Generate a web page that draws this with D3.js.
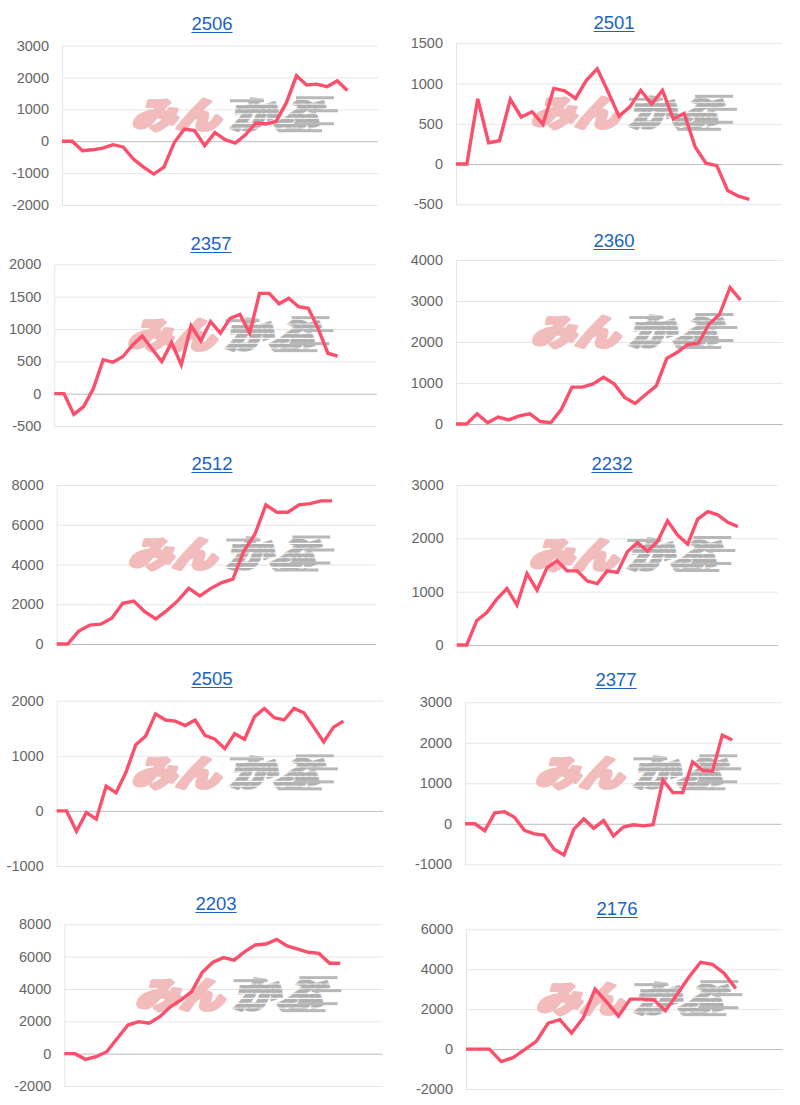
<!DOCTYPE html>
<html><head><meta charset="utf-8">
<script src="https://cdn.jsdelivr.net/npm/d3@7"></script>
<style>
html,body{margin:0;padding:0;background:#fff;}
svg{display:block;}
</style></head>
<body>
<script>
// ---------- data ----------
const titles = ["2506","2501","2357","2360","2512","2232","2505","2377","2203","2176"];

const s2506 = [0,0,-300,-270,-220,-110,-180,-560,-810,-1030,-810,-50,380,330,-140,270,50,-60,200,570,540,620,1200,2050,1760,1790,1710,1890,1590];
const s2501 = [0,0,810,265,290,805,585,650,495,940,910,815,1040,1185,895,595,710,915,745,915,560,630,215,10,-20,-330,-400,-440];
const s2357 = [0,0,-320,-200,80,525,485,570,750,890,690,495,790,445,1050,815,1115,935,1165,1225,935,1550,1550,1390,1475,1345,1320,1010,625,580];
const s2360 = [0,0,250,30,170,100,200,250,60,30,360,900,900,980,1140,980,650,500,720,930,1600,1750,1940,1970,2430,2670,3330,3020];
const s2512 = [0,0,650,950,1000,1300,2050,2160,1630,1260,1680,2180,2800,2420,2800,3090,3270,4680,5520,7000,6630,6630,7000,7060,7200,7200];
const s2232 = [0,0,460,610,860,1060,750,1340,1030,1450,1580,1390,1390,1200,1150,1390,1360,1750,1920,1760,1940,2330,2060,1890,2360,2500,2440,2300,2220];
const s2505 = [0,0,-370,-30,-150,450,330,700,1200,1360,1760,1650,1630,1550,1650,1370,1300,1130,1400,1300,1710,1860,1690,1650,1860,1780,1520,1250,1520,1630];
const s2377 = [0,0,-170,270,300,160,-160,-250,-280,-630,-770,-130,120,-110,80,-300,-80,-25,-50,-20,1080,770,770,1530,1320,1300,2190,2070];
const s2203 = [0,0,-350,-190,120,950,1770,1980,1880,2290,2900,3320,3840,5030,5650,5940,5790,6310,6720,6780,7070,6660,6470,6270,6200,5590,5590];
const s2176 = [0,0,0,-630,-430,-30,390,1300,1470,800,1570,3000,2350,1650,2500,2500,2480,1920,2750,3600,4350,4250,3800,3030];

const seriesList = [s2506,s2501,s2357,s2360,s2512,s2232,s2505,s2377,s2203,s2176];

// number of category slots on each x axis (later dates are still empty)
const xSlots = [32,31,34,32,30,33,34,33,31,28];

const ticks2506 = [-2000,-1000,0,1000,2000,3000];
const ticks2501 = [-500,0,500,1000,1500];
const ticks2357 = [-500,0,500,1000,1500,2000];
const ticks2360 = [0,1000,2000,3000,4000];
const ticks2512 = [0,2000,4000,6000,8000];
const ticks2232 = [0,1000,2000,3000];
const ticks2505 = [-1000,0,1000,2000];
const ticks2377 = [-1000,0,1000,2000,3000];
const ticks2203 = [-2000,0,2000,4000,6000,8000];
const ticks2176 = [-2000,0,2000,4000,6000];
const tickList = [ticks2506,ticks2501,ticks2357,ticks2360,ticks2512,ticks2232,ticks2505,ticks2377,ticks2203,ticks2176];

// ---------- layout (plot boxes, title positions) ----------
const layout = [
  {x0:62,   x1:378,   yt:45.5,  yb:205,   tx:212, ty:30},
  {x0:456,  x1:782,   yt:43.3,  yb:204.3, tx:614, ty:29},
  {x0:54.3, x1:376.7, yt:264.3, yb:426,   tx:211, ty:250},
  {x0:456,  x1:782.7, yt:260,   yb:424,   tx:614, ty:247},
  {x0:56.7, x1:376,   yt:485,   yb:644,   tx:212, ty:470},
  {x0:456.7,x1:778,   yt:485,   yb:645,   tx:612, ty:470},
  {x0:56.7, x1:383,   yt:700.7, yb:866,   tx:212, ty:685},
  {x0:465,  x1:781.7, yt:702.3, yb:864.3, tx:616, ty:686},
  {x0:64.3, x1:382.7, yt:924.3, yb:1086,  tx:216, ty:910},
  {x0:466,  x1:782.7, yt:929.3, yb:1089,  tx:617, ty:915}
];

const LINE_COLOR = "#fb4f6b";
const GRID_COLOR = "#e6e6e6";
const ZERO_COLOR = "#bdbdbd";
const FONT = "'Liberation Sans', Arial, Helvetica, sans-serif";

const svg = d3.select("body").append("svg")
  .attr("width", 800).attr("height", 1105);

const defs = svg.append("defs");
const pat = defs.append("pattern")
  .attr("id", "stripes")
  .attr("patternUnits", "userSpaceOnUse")
  .attr("width", 8).attr("height", 6);
pat.append("rect").attr("x",0).attr("y",0).attr("width",8).attr("height",4.6).attr("fill","#b0b0b0");

function drawWatermark(g, cx, cy) {
  const wm = g.append("g").attr("transform", `translate(${cx},${cy})`);
  const inner = wm.append("g").attr("transform", "scale(1,0.8) skewX(-14)");
  inner.append("text")
    .attr("x", -98).attr("y", 17)
    .attr("font-family", "'Noto Sans CJK JP', sans-serif")
    .attr("font-weight", 900)
    .attr("font-size", 44)
    .attr("fill", "#f2bcbc")
    .attr("stroke", "#f2bcbc")
    .attr("stroke-width", 4.5)
    .attr("stroke-linejoin", "round")
    .text("みん");
  inner.append("text")
    .attr("x", 0).attr("y", 17)
    .attr("font-family", "'Noto Sans CJK JP', sans-serif")
    .attr("font-weight", 900)
    .attr("font-size", 44)
    .attr("fill", "url(#stripes)")
    .attr("stroke", "url(#stripes)")
    .attr("stroke-width", 4.5)
    .text("かぶ");
  // speed lines
  const sl = [[-4,-15,34],[62,-18,38],[74,-5,30],[60,8,40],[44,15,44]];
  sl.forEach(d => {
    wm.append("rect").attr("x", d[0]).attr("y", d[1]).attr("width", d[2]).attr("height", 3)
      .attr("fill", "#b8b8b8");
  });
}

seriesList.forEach((vals, i) => {
  const L = layout[i];
  const ticks = tickList[i];
  const g = svg.append("g");

  const x = d3.scaleLinear().domain([0, xSlots[i] - 1]).range([L.x0, L.x1]);
  const y = d3.scaleLinear().domain([d3.min(ticks), d3.max(ticks)]).range([L.yb, L.yt]);

  // grid + axis
  const axis = d3.axisLeft(y)
    .tickValues(ticks)
    .tickSize(-(L.x1 - L.x0))
    .tickSizeOuter(0)
    .tickPadding(13)
    .tickFormat(d => String(d));
  const ag = g.append("g").attr("transform", `translate(${L.x0},0)`).call(axis);
  ag.select(".domain").attr("stroke", GRID_COLOR).attr("stroke-width", 1);
  ag.selectAll(".tick line")
    .attr("stroke", d => d === 0 ? ZERO_COLOR : GRID_COLOR)
    .attr("stroke-width", 1);
  ag.selectAll(".tick text")
    .attr("fill", "#666")
    .attr("font-family", FONT)
    .attr("font-size", 14.5);

  // watermark
  drawWatermark(g, (L.x0 + L.x1) / 2 + 14, (L.yt + L.yb) / 2 - 11);

  // title
  const t = g.append("text")
    .attr("x", L.tx).attr("y", L.ty)
    .attr("text-anchor", "middle")
    .attr("font-family", FONT)
    .attr("font-size", 18.5)
    .attr("fill", "#1a63c4")
    .text(titles[i]);
  const w = t.node().getComputedTextLength();
  g.append("line")
    .attr("x1", L.tx - w / 2).attr("x2", L.tx + w / 2)
    .attr("y1", L.ty + 2.5).attr("y2", L.ty + 2.5)
    .attr("stroke", "#1a63c4").attr("stroke-width", 1.2);

  // line
  const line = d3.line().x((d, k) => x(k)).y(d => y(d));
  g.append("path")
    .datum(vals)
    .attr("d", line)
    .attr("fill", "none")
    .attr("stroke", LINE_COLOR)
    .attr("stroke-width", 3.4)
    .attr("stroke-linejoin", "miter")
    .attr("stroke-linecap", "butt");
});
</script>
</body></html>
